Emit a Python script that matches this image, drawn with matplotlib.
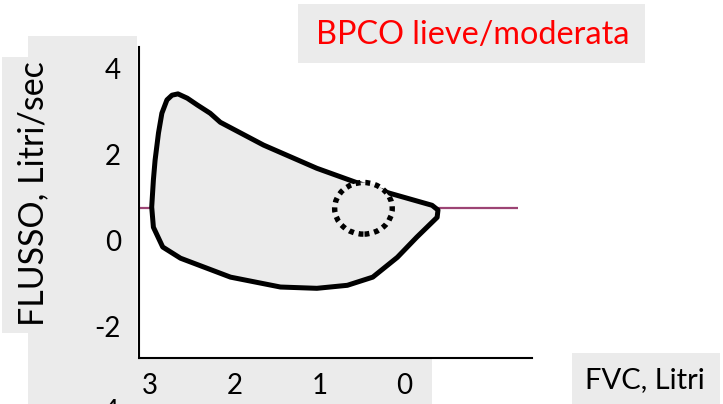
import matplotlib
matplotlib.use("Agg")
import matplotlib.pyplot as plt
from matplotlib.patches import Rectangle, Ellipse

plt.rcParams['font.family'] = ['Lato', 'DejaVu Sans']

# flow-volume loop (FVC litri, flusso litri/sec)
loop_x = [-0.40, -0.33, 0.17, 0.55, 1.03, 1.66, 2.17, 2.29, 2.44, 2.56, 2.67, 2.74,
          2.80, 2.86, 2.90, 2.94, 2.96, 2.98, 2.96, 2.85, 2.64, 2.05, 1.46, 1.03,
          0.67, 0.37, 0.08, -0.15, -0.39]
loop_y = [0.70, 0.81, 1.09, 1.33, 1.67, 2.21, 2.74, 2.95, 3.14, 3.30, 3.40, 3.37,
          3.26, 2.95, 2.49, 1.86, 1.40, 0.77, 0.30, -0.16, -0.42, -0.86, -1.09, -1.12,
          -1.05, -0.86, -0.40, 0.07, 0.53]

baseline_y = 0.74
baseline_x = [3.13, -1.35]
circle_xy = (0.48, 0.74)
circle_w, circle_h = 0.68, 1.20

x_ticks = [3, 2, 1, 0]
y_ticks = [4, 2, 0, -2]

title = "BPCO lieve/moderata"
xlabel = "FVC, Litri"
ylabel = "FLUSSO, Litri/sec"

W, H = 723, 404
GREY = "#ebebeb"

fig = plt.figure(figsize=(W / 100, H / 100), dpi=100)


def box(x0, y0, x1, y1):
    # pixel box, top-left origin
    r = Rectangle((x0 / W, 1 - y1 / H), (x1 - x0) / W, (y1 - y0) / H,
                  transform=fig.transFigure, facecolor=GREY, edgecolor="none", zorder=0)
    fig.add_artist(r)


box(28, 36, 137, 404)
box(2, 57, 40, 333)
box(130, 359, 432, 404)
box(298, 4, 645, 63)
box(572, 353, 720, 404)

ax = fig.add_axes([139 / W, 1 - 358 / H, (532 - 139) / W, (358 - 47) / H])
ax.patch.set_alpha(0)
ax.set_xlim(3.13, -1.51)
ax.set_ylim(-2.74, 4.49)
for s in ["top", "right"]:
    ax.spines[s].set_visible(False)
for s in ["left", "bottom"]:
    ax.spines[s].set_linewidth(1.5)

ax.set_xticks(x_ticks)
ax.set_yticks(y_ticks)
ax.set_yticklabels(["4", "2", "0", "-2"])
ax.tick_params(axis="both", length=0, labelsize=20)
ax.tick_params(axis="y", pad=13)
ax.tick_params(axis="x", pad=11)

ax.hlines(baseline_y, baseline_x[0], baseline_x[1], color="#9c4474", lw=1.6,
          zorder=1, clip_on=False)
ax.fill(loop_x, loop_y, facecolor=GREY, edgecolor="black", lw=3.6,
        joinstyle="round", zorder=2)
ax.add_patch(Ellipse(circle_xy, circle_w, circle_h, facecolor=GREY, edgecolor="black",
                     lw=3.9, linestyle=(0, (0.9, 0.9)), zorder=3))

# cut-off -4 label at the bottom edge
ax.text(-19 / 393, -4, "-4", transform=ax.get_yaxis_transform(), ha="right",
        va="center", fontsize=20, clip_on=False)

ax.set_xlabel(xlabel, fontsize=21, va="center")
ax.xaxis.set_label_coords((645 - 139) / 393, (358 - 380) / 311)
ax.set_ylabel(ylabel, fontsize=24.5, va="center")
ax.yaxis.set_label_coords((33 - 139) / 393, (358 - 194) / 311)

fig.text(473 / W, 1 - 35 / H, title, color="#ff0000", fontsize=23.3, ha="center",
         va="center")

fig.savefig("out.png", dpi=100)
